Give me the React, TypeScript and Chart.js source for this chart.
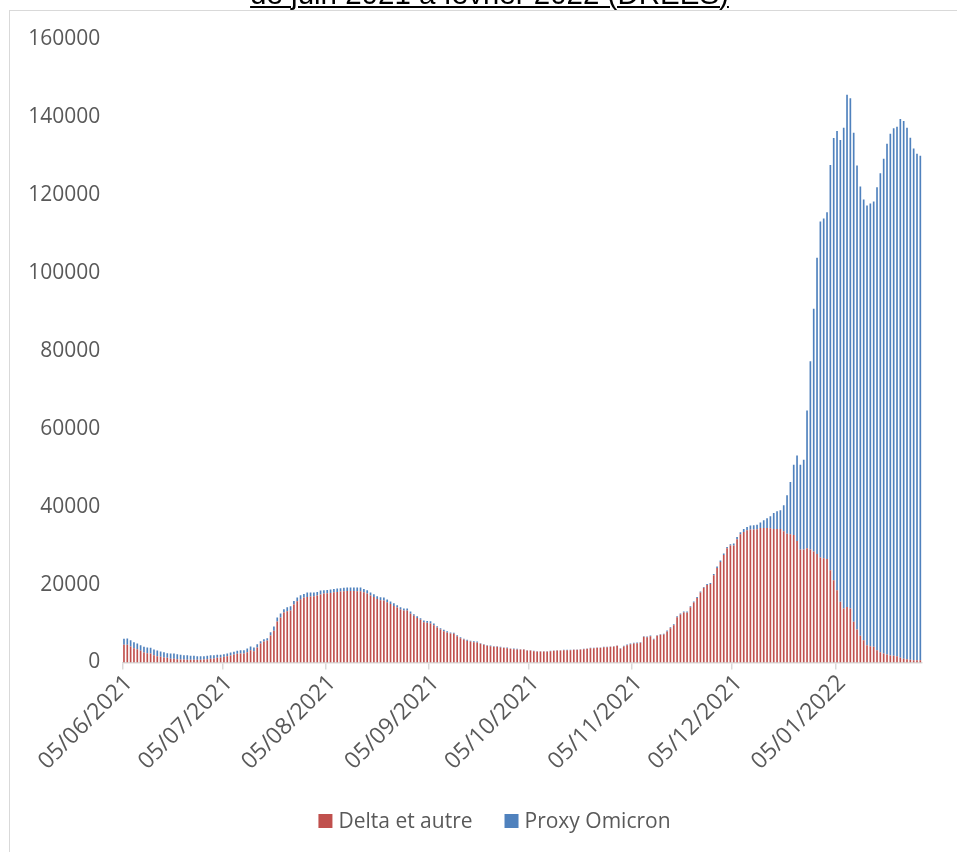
import { useEffect, useRef } from 'react';
import { Chart, registerables } from 'chart.js';

Chart.register(...registerables);

// Daily categories: 05/06/2021 through 30/01/2022
const START_DATE = Date.UTC(2021, 5, 5);
const DAY_COUNT = 240;
const DAYS: string[] = Array.from({ length: DAY_COUNT }, (_, i) => {
  const d = new Date(START_DATE + i * 86400000);
  const dd = String(d.getUTCDate()).padStart(2, '0');
  const mm = String(d.getUTCMonth() + 1).padStart(2, '0');
  return `${dd}/${mm}/${d.getUTCFullYear()}`;
});

// Dates that carry a label and a tick mark on the x axis
const TICK_LABELS = [
  '05/06/2021', '05/07/2021', '05/08/2021', '05/09/2021',
  '05/10/2021', '05/11/2021', '05/12/2021', '05/01/2022',
];

const SERIES_NAMES = ['Delta et autre', 'Proxy Omicron'];
const SERIES_COLORS = ['#C0504D', '#4F81BD'];

const TITLE = 'de juin 2021 à février 2022 (DREES)';

const Y_MAX = 160000;
const Y_STEP = 20000;

// Positive cases per day, Delta and other variants
const DELTA = [
  4530, 4530, 4100, 3680, 3420, 2990, 2560, 2390, 2310, 1880,
  1620, 1450, 1280, 1200, 940, 940, 850, 770, 770, 680,
  680, 680, 680, 680, 770, 850, 940, 1030, 1200, 1280,
  1450, 1620, 1790, 2050, 2220, 2310, 2310, 2650, 3160, 2910,
  3850, 4870, 5380, 5640, 6920, 8120, 10510, 11540, 12820, 13160,
  13330, 14870, 15730, 16240, 16670, 16840, 16920, 17010, 17180, 17440,
  17690, 17780, 17860, 18030, 18120, 18210, 18290, 18380, 18380, 18380,
  18290, 18290, 18030, 17690, 17180, 16840, 16320, 15980, 15900, 15470,
  15040, 14530, 14100, 13590, 13330, 13330, 12480, 11970, 11450, 10940,
  10340, 10170, 10000, 9570, 8970, 8460, 8030, 7690, 7440, 7350,
  6750, 6240, 5900, 5560, 5380, 5210, 5130, 4790, 4530, 4270,
  4190, 4020, 4020, 3850, 3760, 3680, 3500, 3420, 3330, 3330,
  3330, 3080, 3080, 2910, 2820, 2820, 2820, 2820, 2910, 2990,
  3080, 3080, 3160, 3160, 3160, 3250, 3250, 3330, 3420, 3500,
  3680, 3680, 3760, 3760, 3930, 3930, 4020, 4100, 4270, 3500,
  4100, 4440, 4700, 4870, 4960, 5040, 6580, 6500, 6750, 5900,
  6840, 7090, 7180, 7950, 8800, 9570, 11620, 12310, 12820, 12820,
  14190, 15380, 16580, 17950, 19150, 19910, 20170, 22390, 24270, 25810,
  27610, 29320, 30000, 30000, 31620, 32910, 33500, 33930, 34100, 34100,
  34190, 34520, 34520, 34520, 34430, 34260, 34260, 34260, 33670, 33070,
  32900, 32720, 31180, 28970, 28970, 29350, 28970, 28460, 27820, 26920,
  26750, 26540, 23680, 21110, 18550, 15560, 13850, 14270, 13850, 10430,
  8460, 6840, 5730, 4440, 4190, 4020, 3160, 2650, 2310, 2050,
  1790, 1710, 1620, 1200, 940, 850, 680, 600, 600, 600,
];

// Positive cases per day, Omicron proxy
const OMICRON = [
  1540, 1620, 1630, 1530, 1450, 1450, 1460, 1460, 1450, 1450,
  1460, 1370, 1370, 1190, 1370, 1370, 1290, 1200, 1110, 1200,
  1030, 1030, 940, 940, 850, 860, 940, 850, 770, 690,
  690, 690, 770, 690, 770, 850, 850, 940, 940, 940,
  850, 600, 600, 600, 860, 1110, 1030, 1020, 860, 1030,
  1110, 940, 940, 1020, 940, 1110, 1030, 940, 940, 1020,
  860, 850, 860, 860, 850, 850, 860, 850, 850, 850,
  940, 940, 860, 860, 770, 680, 690, 770, 770, 680,
  600, 680, 600, 600, 520, 520, 600, 420, 430, 430,
  430, 510, 600, 430, 350, 340, 350, 340, 250, 260,
  260, 260, 170, 250, 180, 260, 250, 170, 170, 170,
  170, 170, 170, 170, 90, 170, 90, 170, 170, 90,
  90, 80, 80, 80, 90, 90, 90, 90, 80, 90,
  80, 80, 90, 90, 90, 80, 80, 90, 80, 90,
  80, 80, 90, 90, 90, 90, 80, 90, 90, 130,
  170, 180, 170, 170, 170, 170, 170, 170, 170, 170,
  170, 170, 170, 260, 260, 260, 260, 250, 260, 260,
  250, 260, 260, 260, 250, 260, 260, 350, 350, 340,
  340, 340, 340, 510, 600, 510, 770, 860, 1030, 1110,
  1190, 1420, 1970, 2480, 3080, 4100, 4530, 4790, 6660, 9830,
  13410, 18040, 21970, 21790, 23080, 35340, 48360, 62300, 76020, 86230,
  87170, 89000, 104000, 113500, 117850, 118540, 123400, 131440, 130920, 125540,
  119050, 115280, 113060, 112810, 113580, 114260, 118790, 122890, 126990, 131100,
  133920, 135360, 135890, 138280, 138030, 136400, 134010, 131270, 129980, 129470,
];

const PAGE_W = 957;
const PAGE_H = 852;
const FONT_FAMILY = '"Open Sans", sans-serif';
const TEXT_COLOR = '#595959';
const AXIS_COLOR = '#d9d9d9';

// Legend drawn centred under the plot
const bottomLegend = {
  id: 'bottomLegend',
  afterDraw(chart: any) {
    const ctx = chart.ctx as CanvasRenderingContext2D;
    ctx.save();
    ctx.font = `21px ${FONT_FAMILY}`;
    ctx.textBaseline = 'alphabetic';
    ctx.textAlign = 'left';
    const box = 14;
    const gap = 6;
    const spacing = 32;
    const items = chart.data.datasets.map((ds: any) => ({
      text: ds.label as string,
      color: ds.backgroundColor as string,
      w: ctx.measureText(ds.label).width,
    }));
    const total =
      items.reduce((s: number, it: any) => s + box + gap + it.w, 0) + spacing * (items.length - 1);
    let x = 494.5 - total / 2;
    for (const it of items) {
      ctx.fillStyle = it.color;
      ctx.fillRect(x, 814, box, box);
      ctx.fillStyle = TEXT_COLOR;
      ctx.fillText(it.text, x + box + gap, 828);
      x += box + gap + it.w + spacing;
    }
    ctx.restore();
  },
};

export default function App() {
  const canvasRef = useRef<HTMLCanvasElement | null>(null);

  useEffect(() => {
    let chart: Chart | null = null;
    let cancelled = false;
    const build = () => {
      if (cancelled || !canvasRef.current) return;
      chart = new Chart(canvasRef.current, {
        type: 'bar',
        data: {
          labels: DAYS,
          datasets: [
            {
              label: SERIES_NAMES[0],
              data: DELTA,
              backgroundColor: SERIES_COLORS[0],
              borderWidth: 0,
              barPercentage: 0.5,
              categoryPercentage: 1,
            },
            {
              label: SERIES_NAMES[1],
              data: OMICRON,
              backgroundColor: SERIES_COLORS[1],
              borderWidth: 0,
              barPercentage: 0.5,
              categoryPercentage: 1,
            },
          ],
        },
        options: {
          responsive: false,
          animation: false,
          devicePixelRatio: 1,
          layout: { padding: { left: 0, top: 39, right: 35, bottom: 69.5 } },
          plugins: {
            legend: { display: false },
            title: { display: false },
            tooltip: { enabled: false },
          },
          scales: {
            x: {
              stacked: true,
              offset: true,
              grid: {
                display: true,
                offset: true,
                drawOnChartArea: false,
                drawTicks: true,
                tickLength: 7,
                lineWidth: 1.5,
                color: (ctx: any) =>
                  TICK_LABELS.includes(DAYS[ctx.index]) ? AXIS_COLOR : 'rgba(0,0,0,0)',
              },
              border: { display: true, color: AXIS_COLOR, width: 1.5 },
              ticks: {
                autoSkip: false,
                minRotation: 45,
                maxRotation: 45,
                padding: 0,
                labelOffset: 5,
                color: TEXT_COLOR,
                font: { family: FONT_FAMILY, size: 23 },
                callback: (_v: any, i: number) =>
                  TICK_LABELS.includes(DAYS[i]) ? DAYS[i] : '',
              },
              afterFit: (scale: any) => {
                scale.height = 120;
              },
            },
            y: {
              stacked: true,
              min: 0,
              max: Y_MAX,
              grid: { display: false, drawTicks: false },
              border: { display: false },
              ticks: {
                stepSize: Y_STEP,
                padding: 22,
                color: TEXT_COLOR,
                font: { family: FONT_FAMILY, size: 21 },
                callback: (v: any) => String(v),
              },
              afterFit: (scale: any) => {
                scale.width = 122.3;
              },
            },
          },
        },
        plugins: [bottomLegend],
      });
    };
    if (document.fonts && document.fonts.load) {
      Promise.all([
        document.fonts.load(`21px "Open Sans"`),
        document.fonts.load(`29px "Liberation Sans"`),
      ]).then(build, build);
    } else {
      build();
    }
    return () => {
      cancelled = true;
      if (chart) chart.destroy();
    };
  }, []);

  return (
    <div
      style={{
        position: 'fixed',
        left: 0,
        top: 0,
        width: PAGE_W,
        height: PAGE_H,
        overflow: 'hidden',
        background: '#ffffff',
      }}
    >
      <div
        style={{
          position: 'absolute',
          left: 9,
          top: 10,
          width: 2000,
          height: 2000,
          borderTop: `1px solid ${AXIS_COLOR}`,
          borderLeft: `1px solid ${AXIS_COLOR}`,
        }}
      />
      <canvas
        ref={canvasRef}
        width={PAGE_W}
        height={PAGE_H}
        style={{ position: 'absolute', left: 0, top: 0, width: PAGE_W, height: PAGE_H }}
      />
      <div
        style={{
          position: 'absolute',
          left: 0,
          top: -21.5,
          width: 979,
          textAlign: 'center',
          fontFamily: '"Liberation Sans", Arial, sans-serif',
          fontSize: '29.5px',
          lineHeight: '29.5px',
          color: '#000000',
          whiteSpace: 'nowrap',
          textDecoration: 'underline',
          textUnderlineOffset: '1.6px',
          textDecorationThickness: '2.4px',
        }}
      >
        {TITLE}
      </div>
    </div>
  );
}
